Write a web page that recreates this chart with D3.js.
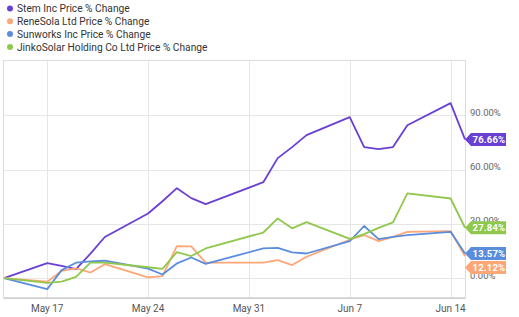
<!DOCTYPE html>
<html>
<head>
<meta charset="utf-8">
<script src="https://cdn.jsdelivr.net/npm/d3@7"></script>
<style>
  body { margin: 0; background: #fff; }
  svg { font-family: Roboto, "Noto Sans", sans-serif; }
</style>
</head>
<body>
<div id="chart"></div>
<script>
// trading days shown on the chart
const dates = ["2021-05-14","2021-05-17","2021-05-18","2021-05-19","2021-05-20","2021-05-21",
  "2021-05-24","2021-05-25","2021-05-26","2021-05-27","2021-05-28",
  "2021-06-01","2021-06-02","2021-06-03","2021-06-04",
  "2021-06-07","2021-06-08","2021-06-09","2021-06-10","2021-06-11",
  "2021-06-14","2021-06-15"];

const names = ["Stem Inc Price % Change", "ReneSola Ltd Price % Change",
  "Sunworks Inc Price % Change", "JinkoSolar Holding Co Ltd Price % Change"];
const colors = ["#6a3fd3", "#fda676", "#5b8ddd", "#8fc84c"];

const stem = [0, 8.3, 6.8, 5.0, 13.5, 22.7, 35.7, 42.5, 49.7, 44.2, 40.9,
  53.0, 66.3, 72.4, 79.0, 89.0, 72.4, 71.3, 72.4, 84.5, 96.7, 76.66];
const renesola = [0, -2.0, 4.0, 5.4, 3.1, 7.7, 0.4, 1.1, 17.7, 17.5, 8.5,
  8.5, 9.9, 7.2, 11.8, 21.2, 23.8, 20.4, 22.8, 25.6, 26.0, 12.12];
const sunworks = [0, -6.1, 4.4, 8.5, 9.2, 9.6, 5.2, 2.0, 8.1, 11.4, 7.9,
  16.4, 16.7, 14.2, 13.6, 20.4, 28.8, 21.5, 22.8, 23.8, 25.6, 13.57];
const jinko = [0, -2.6, -2.0, 0.7, 8.5, 8.5, 6.0, 5.1, 14.4, 12.2, 16.4,
  25.2, 33.0, 27.5, 30.9, 21.7, 24.3, 27.8, 30.8, 46.8, 44.0, 27.84];

const yTicks = [0, 30, 60, 90];

const width = 519, height = 317;
const plot = {left: 4, right: 465, top: 61, bottom: 298};

const parse = d3.utcParse("%Y-%m-%d");
const days = dates.map(parse);
const seriesValues = [stem, renesola, sunworks, jinko];
const series = seriesValues.map((vals, i) => ({
  name: names[i], color: colors[i],
  points: vals.map((v, j) => ({date: days[j], value: v}))
}));

const x = d3.scaleUtc()
  .domain([parse("2021-05-14"), parse("2021-06-15")])
  .range([plot.left, plot.right]);
const y = d3.scaleLinear()
  .domain([-11, 120])
  .range([plot.bottom, plot.top]);

const svg = d3.select("#chart").append("svg")
  .attr("width", width).attr("height", height);

// grid
const mondays = d3.utcMonday.range(x.domain()[0], x.domain()[1]);
svg.append("g").selectAll("line").data(yTicks).join("line")
  .attr("x1", plot.left).attr("x2", plot.right)
  .attr("y1", d => Math.round(y(d)) + 0.5).attr("y2", d => Math.round(y(d)) + 0.5)
  .attr("stroke", "#e6e6e6");
svg.append("g").selectAll("line").data(mondays).join("line")
  .attr("x1", d => Math.round(x(d)) + 0.5).attr("x2", d => Math.round(x(d)) + 0.5)
  .attr("y1", plot.top).attr("y2", plot.bottom)
  .attr("stroke", "#e6e6e6");

// frame
svg.append("rect")
  .attr("x", plot.left - 0.5).attr("y", plot.top - 0.5)
  .attr("width", plot.right - plot.left + 1).attr("height", plot.bottom - plot.top)
  .attr("fill", "none").attr("stroke", "#dcdcdc");
svg.append("line")
  .attr("x1", plot.left - 0.5).attr("x2", plot.right + 0.5)
  .attr("y1", plot.bottom + 0.5).attr("y2", plot.bottom + 0.5)
  .attr("stroke", "#cfcfcf");

// x axis labels
svg.append("g").selectAll("text").data(mondays).join("text")
  .attr("x", d => x(d)).attr("y", 312)
  .attr("text-anchor", "middle")
  .attr("font-size", 10).attr("fill", "#555")
  .text(d3.utcFormat("%b %-d"));

// y axis labels
svg.append("g").selectAll("text").data(yTicks).join("text")
  .attr("x", 470).attr("y", d => y(d) + 0.5)
  .attr("font-size", 9.5).attr("fill", "#666")
  .text(d => d3.format(".2f")(d) + "%");

// lines
const line = d3.line().x(d => x(d.date)).y(d => y(d.value));
svg.append("g").selectAll("path").data(series).join("path")
  .attr("d", d => line(d.points))
  .attr("fill", "none")
  .attr("stroke", d => d.color)
  .attr("stroke-width", 1.8)
  .attr("stroke-linejoin", "round");

// end-value tags, pushed apart so they don't overlap
const tags = series.map(s => {
  const last = s.points[s.points.length - 1];
  return {color: s.color, value: last.value, y: y(last.value)};
}).sort((a, b) => a.y - b.y);
for (let i = 1; i < tags.length; i++) {
  if (tags[i].y - tags[i - 1].y < 14) tags[i].y = tags[i - 1].y + 14;
}
const tagG = svg.append("g").selectAll("g").data(tags).join("g")
  .attr("transform", d => `translate(${plot.right},${d.y})`);
tagG.append("path")
  .attr("d", "M0,0 L6,-6.5 L41,-6.5 L41,6.5 L6,6.5 Z")
  .attr("fill", d => d.color);
tagG.append("text")
  .attr("x", 7.5).attr("y", 3.5)
  .attr("font-size", 9.5).attr("font-weight", "bold")
  .attr("fill", "#fff").attr("letter-spacing", 0.2)
  .text(d => d3.format(".2f")(d.value) + "%");

// legend
const legend = svg.append("g").selectAll("g").data(series).join("g")
  .attr("transform", (d, i) => `translate(10,${8.5 + i * 12.8})`);
legend.append("circle").attr("r", 3).attr("fill", d => d.color);
legend.append("text")
  .attr("x", 7).attr("y", 3.6)
  .attr("font-size", 10.2).attr("fill", "#333")
  .text(d => d.name);
</script>
</body>
</html>
